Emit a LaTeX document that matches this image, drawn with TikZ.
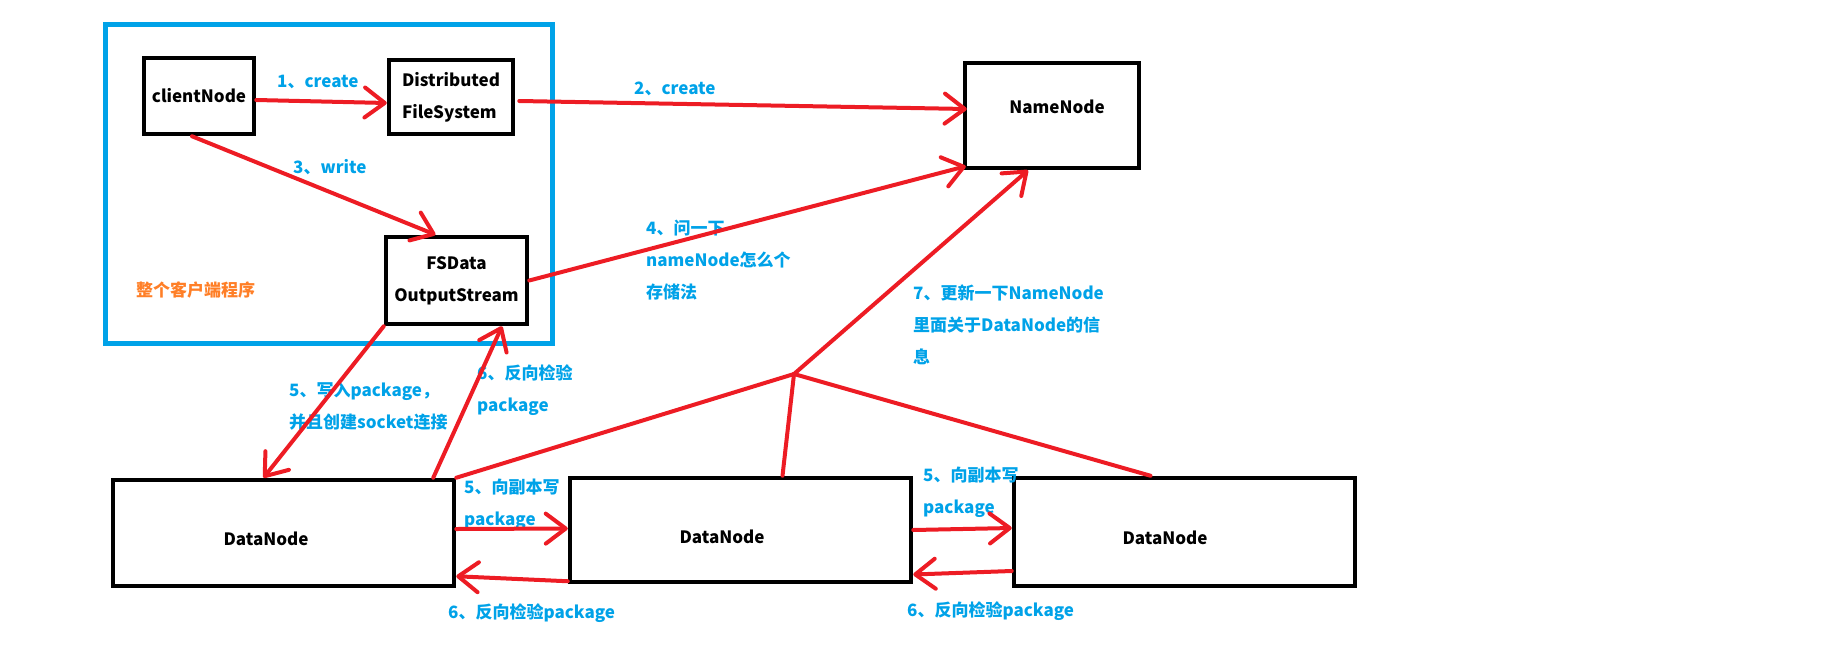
\documentclass[tikz,border=0pt]{standalone}
\usepackage{fontspec}
\setmainfont{Noto Sans CJK SC}
\usetikzlibrary{arrows.meta}
\definecolor{pred}{HTML}{ED1C24}
\definecolor{pblue}{HTML}{00A2E8}
\definecolor{porange}{HTML}{FF7F27}
\tikzset{
  box/.style={draw=black, line width=4.5pt, inner sep=0pt, fill=white},
  con/.style={draw=pred, line width=4pt, line cap=round, line join=round},
  arr/.style={con, -{Straight Barb[length=20pt, width=30pt, line cap=round, line join=round]}},
  lbl/.style={text=pblue, anchor=base west, inner sep=0pt, align=left},
  inlbl/.style={inner sep=0pt}
}
\begin{document}
\begin{tikzpicture}[x=1pt, y=-1pt, font=\fontsize{17}{32}\selectfont\bfseries]
\useasboundingbox (0,0) rectangle (1843,648);
% client area
\node[draw=pblue, line width=5pt, minimum width=447pt, minimum height=319pt, inner sep=0pt] (area) at (329,184) {};
% boxes
\node[box, minimum width=110pt, minimum height=76pt] (client) at (199,96) {clientNode};
\node[box, minimum width=124pt, minimum height=74pt, align=left] (dfs) at (451,97) {Distributed\\FileSystem};
\node[box, minimum width=141pt, minimum height=87pt, align=center] (fsd) at (456.5,280.5) {FSData\\OutputStream};
\node[box, minimum width=174pt, minimum height=105pt, label={[inlbl, xshift=5pt, yshift=8.5pt]center:NameNode}] (nn) at (1052,115.5) {};
\node[box, minimum width=341pt, minimum height=106pt, label={[inlbl, xshift=-17.5pt, yshift=-6pt]center:DataNode}] (dn1) at (283.5,533) {};
\node[box, minimum width=341pt, minimum height=104pt, label={[inlbl, xshift=-18.5pt, yshift=-7pt]center:DataNode}] (dn2) at (740.5,530) {};
\node[box, minimum width=341pt, minimum height=108pt, label={[inlbl, xshift=-19.5pt, yshift=-6pt]center:DataNode}] (dn3) at (1184.5,532) {};
% labels (base anchor of a multi-line node is its last line)
\node[text=porange, anchor=base west, inner sep=0pt] (areal) at (136,296) {整个客户端程序};
\node[lbl] (l1) at (277,87) {1、create};
\node[lbl] (l2) at (634,94) {2、create};
\node[lbl] (l3) at (293,173) {3、write};
\node[lbl] (l4) at (646,298) {4、问一下\\nameNode怎么个\\存储法};
\node[lbl] (l5) at (289,428) {5、写入package，\\并且创建socket连接};
\node[lbl] (l6) at (477,411) {6、反向检验\\package};
\node[lbl] (l7) at (913,363) {7、更新一下NameNode\\里面关于DataNode的信\\息};
\node[lbl] (l5a) at (464,525) {5、向副本写\\package};
\node[lbl] (l6a) at (448,618) {6、反向检验package};
\node[lbl] (l5b) at (923,513) {5、向副本写\\package};
\node[lbl] (l6b) at (907,616) {6、反向检验package};
% connectors
\draw[arr] ([yshift=-4pt]client.east) -- ([yshift=-6pt]dfs.west);
\draw[arr] ([xshift=4pt,yshift=-4pt]dfs.east) -- ([xshift=4pt,yshift=6.5pt]nn.west);
\draw[arr] ([xshift=-7pt]client.south) -- ([xshift=-21pt]fsd.north);
\draw[arr] (fsd.east) -- ([xshift=3pt,yshift=4pt]nn.south west);
\draw[arr] (fsd.south west) -- ([xshift=-20pt]dn1.north);
\draw[arr] ([xshift=-23pt]dn1.north east) -- ([xshift=45.5pt]fsd.south);
\coordinate (j) at (794,374);
\draw[con] (dn1.north east) -- (j);
\draw[con] ([xshift=42pt]dn2.north) -- (j);
\draw[con] ([xshift=-34pt]dn3.north) -- (j);
\draw[arr] (j) -- ([xshift=-24pt]nn.south);
\draw[arr] ([yshift=4pt]dn1.east) -- ([yshift=1.5pt]dn2.west);
\draw[arr] ([yshift=3pt]dn2.south west) -- ([yshift=12pt]dn1.south east);
\draw[arr] (dn2.east) -- ([yshift=4pt]dn3.west);
\draw[arr] ([yshift=-39pt]dn3.west) -- ([yshift=-44.5pt]dn2.east);
\end{tikzpicture}
\end{document}
